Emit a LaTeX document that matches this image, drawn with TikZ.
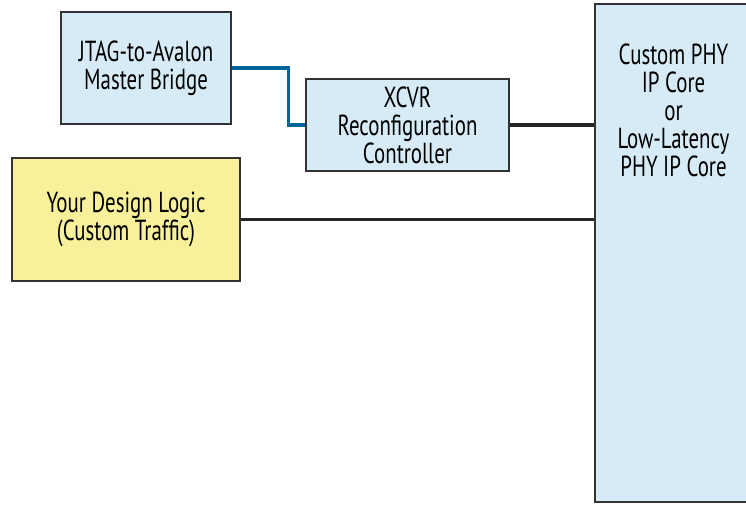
\documentclass[tikz,border=0pt]{standalone}
\usepackage{fontspec}
\setmainfont[FakeStretch=0.72]{PT Sans}
\usetikzlibrary{positioning}
\definecolor{boxblue}{RGB}{214,235,245}
\definecolor{boxyellow}{RGB}{248,240,154}
\definecolor{linkblue}{RGB}{0,101,155}
\definecolor{edgegray}{RGB}{51,51,51}

\tikzset{
  block/.style={draw=edgegray, line width=2.2pt, fill=boxblue, align=center, inner sep=0pt},
  wire/.style={line width=3.2pt, draw=black!85},
}

\begin{document}
\begin{tikzpicture}[x=1pt,y=-1pt,font=\fontsize{29}{28}\selectfont]
		\useasboundingbox (0,0) rectangle (746,504);
		\clip (0,0) rectangle (746,504);
		\node[block, minimum width=170pt, minimum height=112pt] (jtag) at (146,68) {JTAG-to-Avalon\\Master Bridge};
		\node[block, minimum width=203pt, minimum height=92pt] (xcvr) at (407.5,125) {XCVR\\Reconfiguration\\Controller};
		\node[block, fill=boxyellow, minimum width=228pt, minimum height=123pt] (logic) at (126,219.5) {Your Design Logic\\(Custom Traffic)};
		\node[block, minimum width=157pt, minimum height=498pt] (phy) at (673.5,253) {};
		\node[align=center, anchor=north, inner sep=0pt] (phytext) at (673.5,44) {Custom PHY\\IP Core\\or\\Low-Latency\\PHY IP Core};
		% connections
		\draw[wire, draw=linkblue] (jtag.east) -- ++(56,0) |- (xcvr.west);
		\draw[wire] (xcvr.east) -- (xcvr.east -| phy.west);
		\draw[wire] (logic.east) -- (logic.east -| phy.west);
		\end{tikzpicture}
\end{document}
